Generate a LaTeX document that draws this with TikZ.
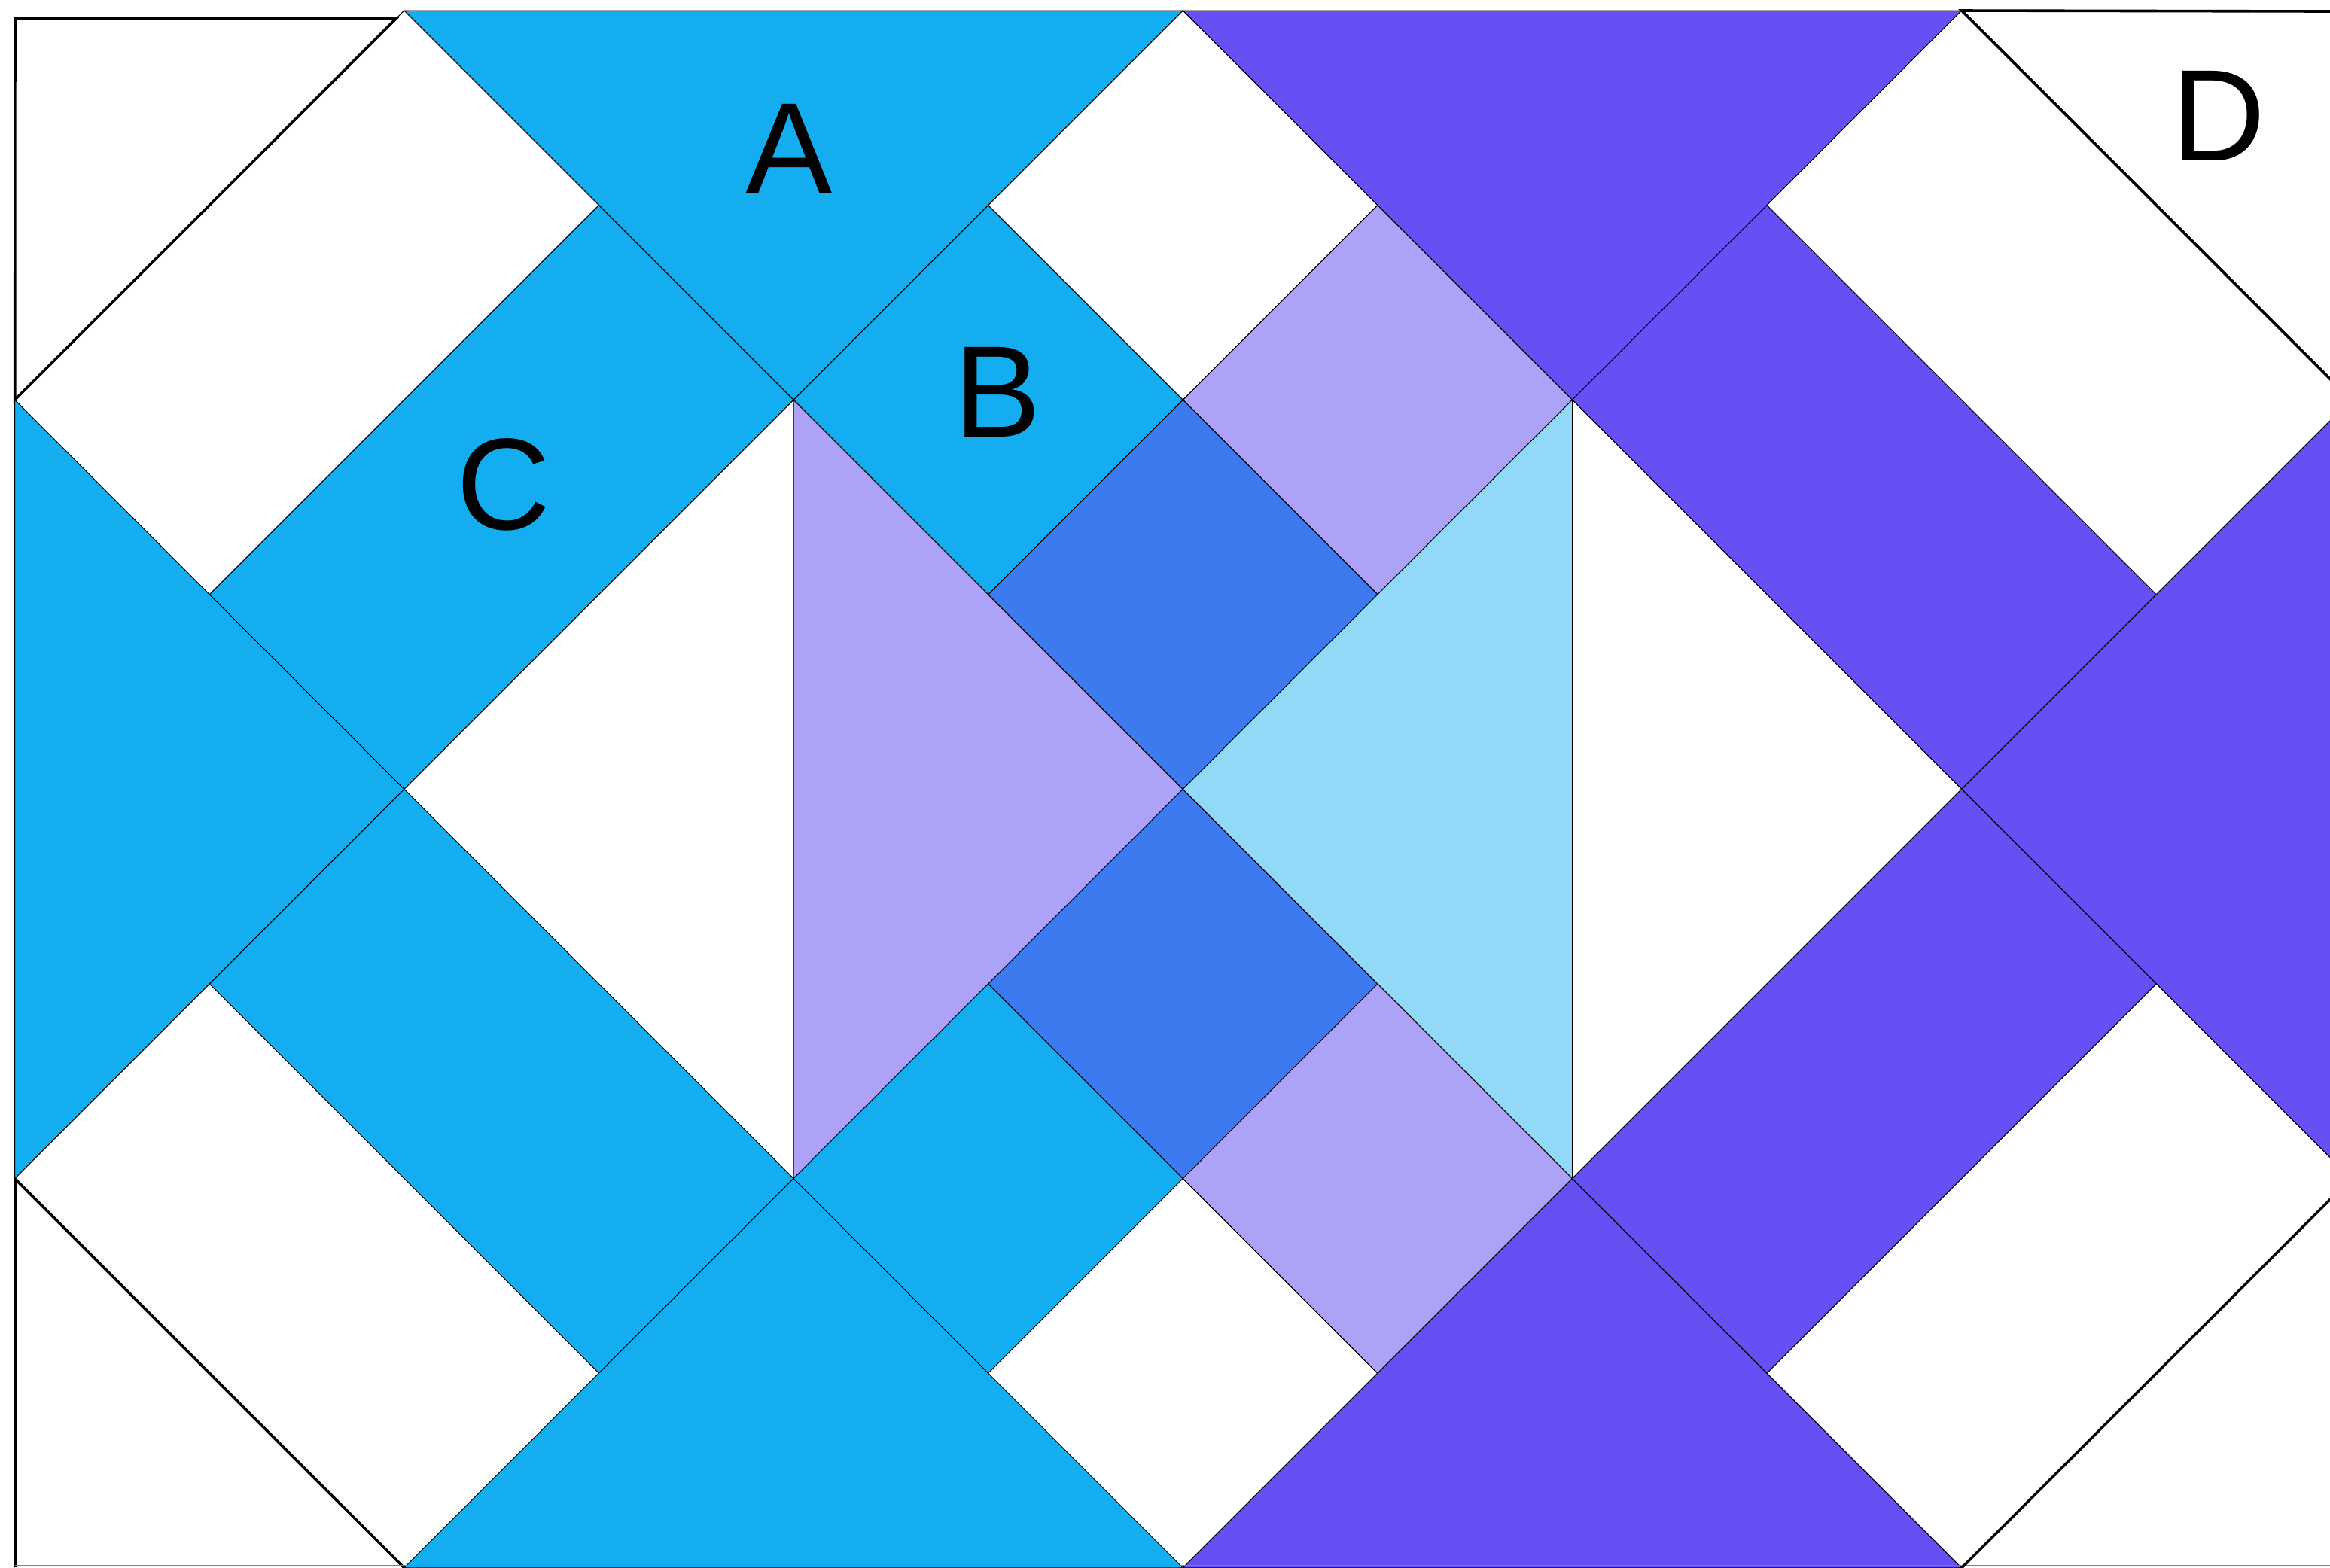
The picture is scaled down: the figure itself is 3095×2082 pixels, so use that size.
\documentclass[tikz,border=0pt]{standalone}
\usepackage{fontspec}
\setmainfont{Liberation Sans}
\definecolor{cblue}{RGB}{20,173,240}
\definecolor{cpurple}{RGB}{101,81,243}
\definecolor{clav}{RGB}{172,163,248}
\definecolor{croyal}{RGB}{61,122,239}
\definecolor{clight}{RGB}{146,217,247}
\tikzset{
  tile/.style={draw=black, line width=0.25pt, line join=miter},
  outer/.style={draw=black, line width=0.9pt, line cap=butt, line join=miter},
  lbl/.style={inner sep=0pt, font=\fontsize{43.3}{50}\selectfont, text=black}
}
\begin{document}
\begin{tikzpicture}[x=0.25pt,y=-0.25pt]
\useasboundingbox (0,0) rectangle (3095,2082);
\clip (0,0) rectangle (3095,2082);
\fill[white] (0,0) rectangle (3095,2082);
\foreach \i in {0,...,12}{
  \foreach \j in {0,...,8}{
    \coordinate (g\i-\j) at ({19.7+258.6*\i},{14+258.6*\j});
  }
}
% top row
\filldraw[tile, fill=cblue] (g2-0) -- (g6-0) -- (g4-2) -- cycle;
\filldraw[tile, fill=white] (g0-2) -- (g2-0) -- (g3-1) -- (g1-3) -- cycle;
\filldraw[tile, fill=cblue] (g3-1) -- (g4-2) -- (g2-4) -- (g1-3) -- cycle;
\filldraw[tile, fill=cblue] (g4-2) -- (g5-1) -- (g6-2) -- (g5-3) -- cycle;
\filldraw[tile, fill=white] (g5-1) -- (g6-0) -- (g7-1) -- (g6-2) -- cycle;
\filldraw[tile, fill=clav] (g6-2) -- (g7-1) -- (g8-2) -- (g7-3) -- cycle;
\filldraw[tile, fill=cpurple] (g6-0) -- (g10-0) -- (g8-2) -- cycle;
\filldraw[tile, fill=cpurple] (g8-2) -- (g9-1) -- (g11-3) -- (g10-4) -- cycle;
\filldraw[tile, fill=white] (g9-1) -- (g10-0) -- (g12-2) -- (g11-3) -- cycle;
\filldraw[tile, fill=cpurple] (g10-4) -- (g12-2) -- (g12-6) -- cycle;
% middle
\filldraw[tile, fill=cblue] (g0-2) -- (g2-4) -- (g0-6) -- cycle;
\filldraw[tile, fill=white] (g4-2) -- (g2-4) -- (g4-6) -- cycle;
\filldraw[tile, fill=clav] (g4-2) -- (g6-4) -- (g4-6) -- cycle;
\filldraw[tile, fill=croyal] (g5-3) -- (g6-2) -- (g7-3) -- (g6-4) -- cycle;
\filldraw[tile, fill=croyal] (g5-5) -- (g6-4) -- (g7-5) -- (g6-6) -- cycle;
\filldraw[tile, fill=clight] (g6-4) -- (g8-2) -- (g8-6) -- cycle;
\filldraw[tile, fill=white] (g8-2) -- (g10-4) -- (g8-6) -- cycle;
% bottom row
\filldraw[tile, fill=cblue] (g1-5) -- (g2-4) -- (g4-6) -- (g3-7) -- cycle;
\filldraw[tile, fill=white] (g0-6) -- (g1-5) -- (g3-7) -- (g2-8) -- cycle;
\filldraw[tile, fill=cblue] (g2-8) -- (g4-6) -- (g6-8) -- cycle;
\filldraw[tile, fill=cblue] (g4-6) -- (g5-5) -- (g6-6) -- (g5-7) -- cycle;
\filldraw[tile, fill=white] (g5-7) -- (g6-6) -- (g7-7) -- (g6-8) -- cycle;
\filldraw[tile, fill=clav] (g6-6) -- (g7-5) -- (g8-6) -- (g7-7) -- cycle;
\filldraw[tile, fill=cpurple] (g6-8) -- (g8-6) -- (g10-8) -- cycle;
\filldraw[tile, fill=cpurple] (g8-6) -- (g10-4) -- (g11-5) -- (g9-7) -- cycle;
\filldraw[tile, fill=white] (g9-7) -- (g11-5) -- (g12-6) -- (g10-8) -- cycle;
% outer outlined corner triangles
\coordinate (tl1) at (20,24);
\coordinate (tl2) at (526.7,24);
\coordinate (bl1) at (20,1566);
\coordinate (bl2) at (20,2082);
\coordinate (tr2) at (3095,15);
\draw[outer] (g0-2) -- (tl1) -- (tl2) -- cycle;
\draw[outer] (bl2) -- (bl1) -- (g2-8);
\draw[tile, draw=gray] (bl2) ++(0,-3) -- ++(3095,0);
\draw[outer] (tr2) -- (g10-0) -- (g12-2);
\draw[outer] (g10-8) -- (g12-6);
% labels
\node[lbl] (la) at (1048,198) {A};
\node[lbl] (lb) at (1325,521) {B};
\node[lbl] (lc) at (669,644) {C};
\node[lbl] (ld) at (2947,154) {D};
\end{tikzpicture}
\end{document}
